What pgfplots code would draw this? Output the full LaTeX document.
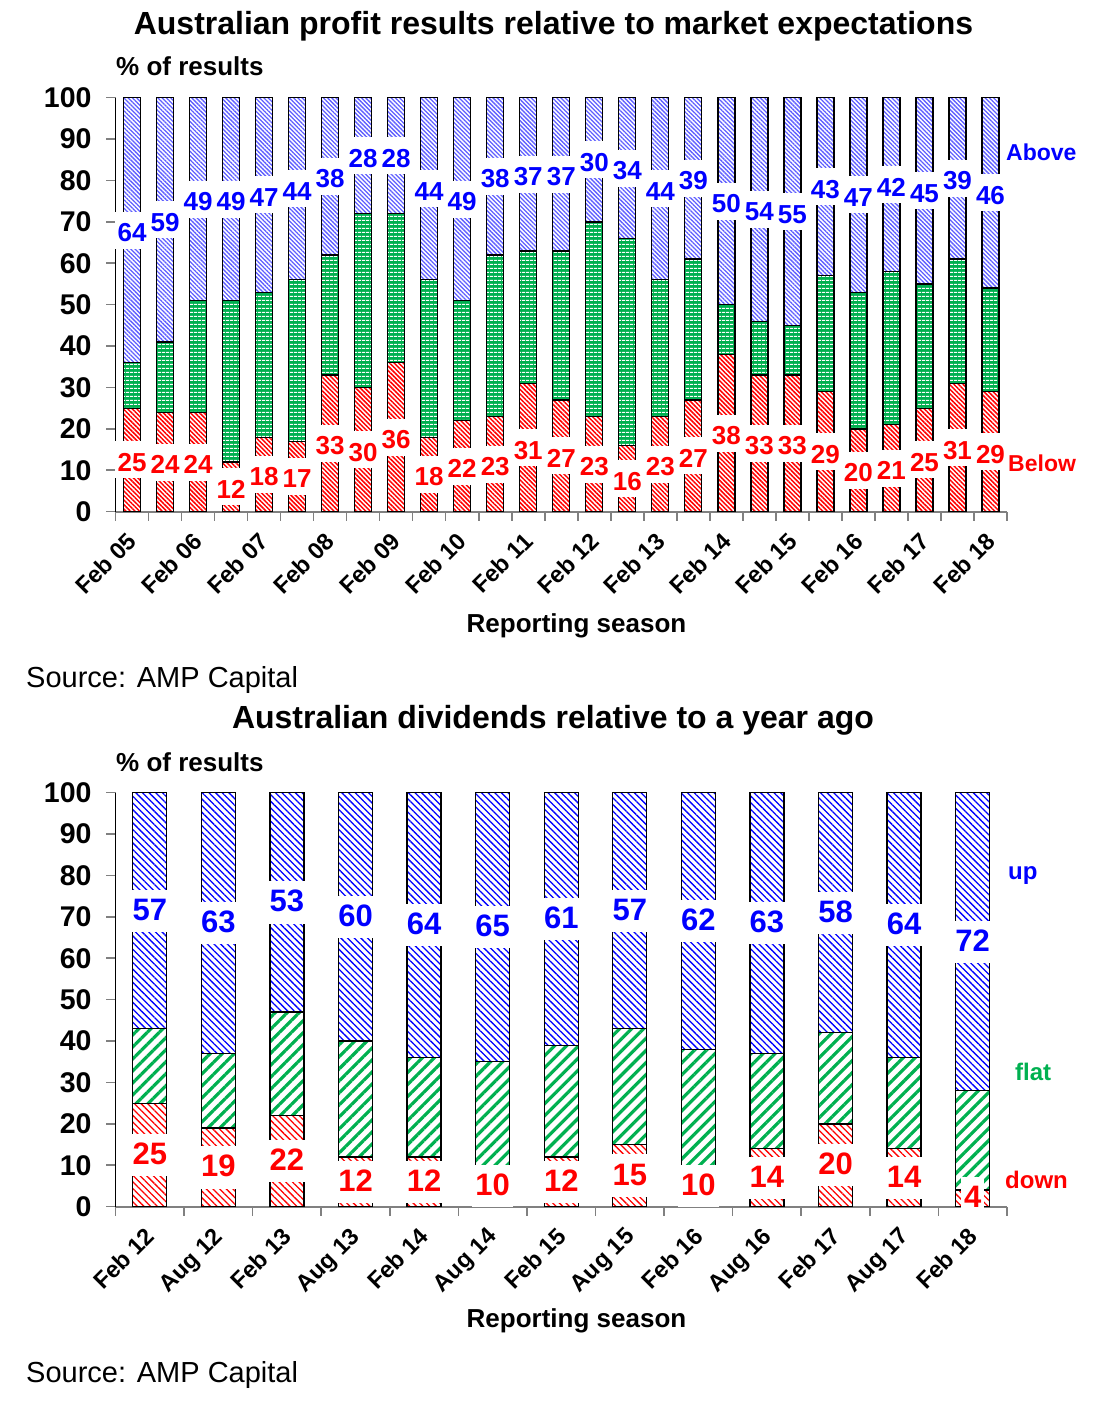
\documentclass[border=0pt]{standalone}
\usepackage{fontspec}
\setmainfont{Liberation Sans}
\usepackage{pgfplots}
\pgfplotsset{compat=1.18}
\usepackage{pgfplotstable}
\usetikzlibrary{patterns,patterns.meta}

\definecolor{xgreen}{RGB}{0,176,80}
\definecolor{xblue}{RGB}{0,0,255}
\definecolor{xred}{RGB}{255,0,0}
\definecolor{lav}{RGB}{95,95,255}
\definecolor{axgray}{RGB}{128,128,128}

\newcommand{\fs}[1]{\fontsize{#1}{#1}\selectfont}

\pgfplotstableread{
idx below flat above
0 25 11 64
1 24 17 59
2 24 27 49
3 12 39 49
4 18 35 47
5 17 39 44
6 33 29 38
7 30 42 28
8 36 36 28
9 18 38 44
10 22 29 49
11 23 39 38
12 31 32 37
13 27 36 37
14 23 47 30
15 16 50 34
16 23 33 44
17 27 34 39
18 38 12 50
19 33 13 54
20 33 12 55
21 29 28 43
22 20 33 47
23 21 37 42
24 25 30 45
25 31 30 39
26 29 25 46
}\toptable

\pgfplotstableread{
idx down flat up
0 25 18 57
1 19 18 63
2 22 25 53
3 12 28 60
4 12 24 64
5 10 25 65
6 12 27 61
7 15 28 57
8 10 28 62
9 14 23 63
10 20 22 58
11 14 22 64
12 4 24 72
}\bottable

\pgfplotsset{
  chartbase/.style={
    scale only axis,
    anchor=south west,
    ymin=0, ymax=100,
    ytick={0,10,...,100},
    axis lines=left,
    axis line style={-},
    x axis line style={draw=axgray, line width=1.8pt},
    y axis line style={draw=black, line width=1.5pt},
    tick align=outside,
    major tick length=9.5pt,
    minor tick length=9pt,
    major y tick style={axgray, line width=1.6pt},
    minor x tick style={axgray, line width=1.6pt},
    major x tick style={draw=none},
    yticklabel style={font=\fs{28.5}\bfseries, xshift=-11pt},
    xticklabel style={font=\fs{23.5}\bfseries, xshift=-6pt, yshift=-5pt, rotate=45, anchor=north east},
    /pgf/number format/assume math mode=true,
    clip=false,
  },
  labelbase/.style={
    scale only axis, anchor=south west, ymin=0, ymax=100, hide axis, clip=false,
  },
}

\begin{document}
\begin{tikzpicture}[x=1pt,y=1pt]
\useasboundingbox (0,0) rectangle (1106,1408);

% ---------------- Top chart ----------------
\begin{axis}[chartbase, at={(115.5pt,896.3pt)}, width=891.5pt, height=414pt,
  xmin=-0.5, xmax=26.5,
  ybar stacked, bar width=17pt,
  xtick={0,2,...,26},
  xticklabels={Feb 05,Feb 06,Feb 07,Feb 08,Feb 09,Feb 10,Feb 11,Feb 12,Feb 13,Feb 14,Feb 15,Feb 16,Feb 17,Feb 18},
  minor xtick={-0.5,0.5,...,26.5},
]
\addplot[draw=black, line width=1.3pt, fill=white,
  postaction={pattern={Lines[angle=-45,distance=3.2pt,line width=1.5pt]}, pattern color=xred}]
  table[x=idx,y=below]{\toptable};
\addplot[draw=black, line width=1.3pt, fill=xgreen,
  postaction={pattern={Lines[angle=0,distance=4pt,line width=1pt]}, pattern color=white}]
  table[x=idx,y=flat]{\toptable};
\addplot[draw=black, line width=1.3pt, fill=white,
  postaction={pattern={Lines[angle=-45,distance=3pt,line width=1.3pt]}, pattern color=lav}]
  table[x=idx,y=above]{\toptable};
\end{axis}

\begin{axis}[labelbase, at={(115.5pt,896.3pt)}, width=891.5pt, height=414pt, xmin=-0.5, xmax=26.5]
\addplot[draw=none, mark=none, nodes near coords, point meta=explicit symbolic,
  every node near coord/.append style={anchor=center, fill=white, text=xred,
    font=\fs{26}\bfseries, inner xsep=2.5pt, inner ysep=3pt, text height=27pt, text depth=4pt}]
  table[x=idx, y expr=\thisrow{below}/2, meta=below]{\toptable};
\addplot[draw=none, mark=none, nodes near coords, point meta=explicit symbolic,
  every node near coord/.append style={anchor=center, fill=white, text=xblue,
    font=\fs{26}\bfseries, inner xsep=2.5pt, inner ysep=3pt, text height=27pt, text depth=4pt}]
  table[x=idx, y expr=100-\thisrow{above}/2, meta=above]{\toptable};
\end{axis}

\node[anchor=base, inner sep=0] at (553.5,1373) {\fs{32}\bfseries Australian profit results relative to market expectations};
\node[anchor=base west, inner sep=0] at (116,1332) {\fs{26}\bfseries \% of results};
\node[anchor=base, inner sep=0] at (576.5,775) {\fs{26}\bfseries Reporting season};
\node[anchor=base west, inner sep=0] at (26,720) {\fs{29}Source: AMP Capital};
\node[anchor=base west, inner sep=0, text=xblue] at (1006,1247) {\fs{23}\bfseries Above};
\node[anchor=base west, inner sep=0, text=xred] at (1008,936) {\fs{23}\bfseries Below};

% ---------------- Bottom chart ----------------
\begin{axis}[chartbase, at={(115.5pt,201.3pt)}, width=891.5pt, height=414pt,
  xmin=-0.5, xmax=12.5,
  ybar stacked, bar width=34pt,
  xtick={0,1,...,12},
  xticklabels={Feb 12,Aug 12,Feb 13,Aug 13,Feb 14,Aug 14,Feb 15,Aug 15,Feb 16,Aug 16,Feb 17,Aug 17,Feb 18},
  minor xtick={-0.5,0.5,...,12.5},
]
\addplot[draw=black, line width=1.3pt, fill=white,
  postaction={pattern={Lines[angle=-45,distance=4.7pt,line width=1.3pt]}, pattern color=xred}]
  table[x=idx,y=down]{\bottable};
\addplot[draw=black, line width=1.3pt, fill=white,
  postaction={pattern={Lines[angle=45,distance=8.5pt,line width=3.2pt]}, pattern color=xgreen}]
  table[x=idx,y=flat]{\bottable};
\addplot[draw=black, line width=1.3pt, fill=white,
  postaction={pattern={Lines[angle=-45,distance=4.7pt,line width=1.3pt]}, pattern color=xblue}]
  table[x=idx,y=up]{\bottable};
\end{axis}

\begin{axis}[labelbase, at={(115.5pt,201.3pt)}, width=891.5pt, height=414pt, xmin=-0.5, xmax=12.5]
\addplot[draw=none, mark=none, nodes near coords, point meta=explicit symbolic,
  every node near coord/.append style={anchor=center, fill=white, text=xred,
    font=\fs{31}\bfseries, inner xsep=3pt, inner ysep=3pt, text height=27.6pt, text depth=8.7pt}]
  table[x=idx, y expr=\thisrow{down}/2, meta=down]{\bottable};
\addplot[draw=none, mark=none, nodes near coords, point meta=explicit symbolic,
  every node near coord/.append style={anchor=center, fill=white, text=xblue,
    font=\fs{31}\bfseries, inner xsep=3pt, inner ysep=3pt, text height=27.6pt, text depth=8.7pt}]
  table[x=idx, y expr=100-\thisrow{up}/2, meta=up]{\bottable};
\end{axis}

\node[anchor=base, inner sep=0] at (553,679) {\fs{32}\bfseries Australian dividends relative to a year ago};
\node[anchor=base west, inner sep=0] at (116,636) {\fs{26}\bfseries \% of results};
\node[anchor=base, inner sep=0] at (576.5,80) {\fs{26}\bfseries Reporting season};
\node[anchor=base west, inner sep=0] at (26,25) {\fs{29}Source: AMP Capital};
\node[anchor=base west, inner sep=0, text=xblue] at (1008,528) {\fs{24}\bfseries up};
\node[anchor=base west, inner sep=0, text=xgreen] at (1015,327) {\fs{24}\bfseries flat};
\node[anchor=base west, inner sep=0, text=xred] at (1005,219) {\fs{24}\bfseries down};
\end{tikzpicture}
\end{document}
